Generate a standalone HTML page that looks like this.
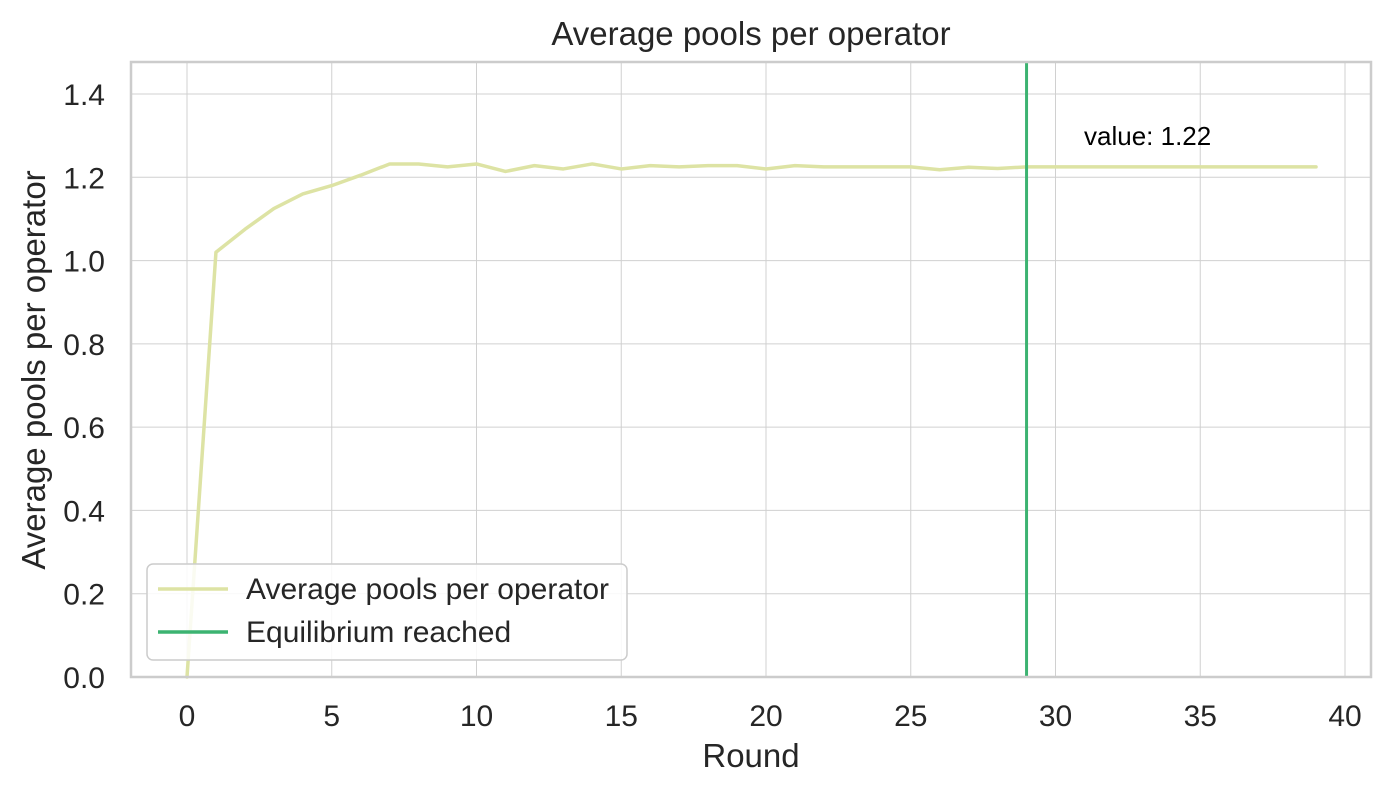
<!DOCTYPE html>
<html><head><meta charset="utf-8"><style>
body{margin:0;background:#fff;}
svg{display:block;font-family:"Liberation Sans","DejaVu Sans",sans-serif;}
</style></head><body>
<svg id="chart" width="1391" height="794">
<rect x="0" y="0" width="1391" height="794" fill="#fff"/>
<g id="grid"></g>
<g id="ticks"></g>
<g id="series"></g>
<rect x="131" y="62" width="1240" height="615" fill="none" stroke="#cccccc" stroke-width="2.5"/>
<text x="751" y="45" font-size="33" fill="#262626" text-anchor="middle">Average pools per operator</text>
<text x="751" y="767" font-size="33" fill="#262626" text-anchor="middle">Round</text>
<text transform="translate(45,370) rotate(-90)" font-size="33" fill="#262626" text-anchor="middle">Average pools per operator</text>
<text x="1084" y="145" font-size="26" fill="#000">value: 1.22</text>
<g>
<rect x="147" y="564" width="480" height="96" rx="6" fill="#fff" fill-opacity="0.85" stroke="#cccccc" stroke-width="1.5"/>
<line x1="158" y1="589" x2="228" y2="589" stroke="#dde3a4" stroke-width="3.5"/>
<text x="246" y="599" font-size="30" fill="#262626">Average pools per operator</text>
<line x1="158" y1="632" x2="228" y2="632" stroke="#3cb371" stroke-width="3.5"/>
<text x="246" y="642" font-size="30" fill="#262626">Equilibrium reached</text>
</g>
</svg>
<script>
const rounds=[0,1,2,3,4,5,6,7,8,9,10,11,12,13,14,15,16,17,18,19,20,21,22,23,24,25,26,27,28,29,30,31,32,33,34,35,36,37,38,39];
const values=[0,1.02,1.075,1.125,1.16,1.18,1.205,1.232,1.232,1.225,1.232,1.214,1.228,1.22,1.232,1.22,1.228,1.225,1.228,1.228,1.22,1.228,1.225,1.225,1.225,1.225,1.218,1.224,1.221,1.225,1.225,1.225,1.225,1.225,1.225,1.225,1.225,1.225,1.225,1.225];
const xTicks=[0,5,10,15,20,25,30,35,40];
const yTicks=[0,0.2,0.4,0.6,0.8,1.0,1.2,1.4];
const equilibriumRound=[29];
const NS="http://www.w3.org/2000/svg";
const X=v=>187+v*28.95;
const Y=v=>677-v*(583/1.4);
function mk(t,a,p){const e=document.createElementNS(NS,t);for(const k in a)e.setAttribute(k,a[k]);p.appendChild(e);return e;}
const grid=document.getElementById('grid'),ticks=document.getElementById('ticks'),series=document.getElementById('series');
xTicks.forEach(t=>{
 const l=mk('line',{x1:X(t),x2:X(t),y1:62,y2:677,stroke:'#d0d0d0','stroke-width':1},grid);
 
 
 const tx=mk('text',{x:X(t),y:726,'font-size':30,fill:'#262626','text-anchor':'middle'},ticks);
 tx.textContent=t;
 
 
});
yTicks.forEach(t=>{
 const l=mk('line',{x1:131,x2:1371,y1:Y(t),y2:Y(t),stroke:'#d0d0d0','stroke-width':1},grid);
 
 
 const tx=mk('text',{x:105,y:Y(t)+11,'font-size':30,fill:'#262626','text-anchor':'end'},ticks);
 tx.textContent=t.toFixed(1);
 
 
});
const pts=rounds.map((r,i)=>X(r)+','+Y(values[i])).join(' ');
const pl=mk('polyline',{points:pts,fill:'none',stroke:'#dde3a4','stroke-width':3.5,'stroke-linejoin':'round','stroke-linecap':'round'},series);


const eq=mk('line',{x1:X(equilibriumRound[0]),x2:X(equilibriumRound[0]),y1:62,y2:677,stroke:'#3cb371','stroke-width':3},series);


</script>
</body></html>
